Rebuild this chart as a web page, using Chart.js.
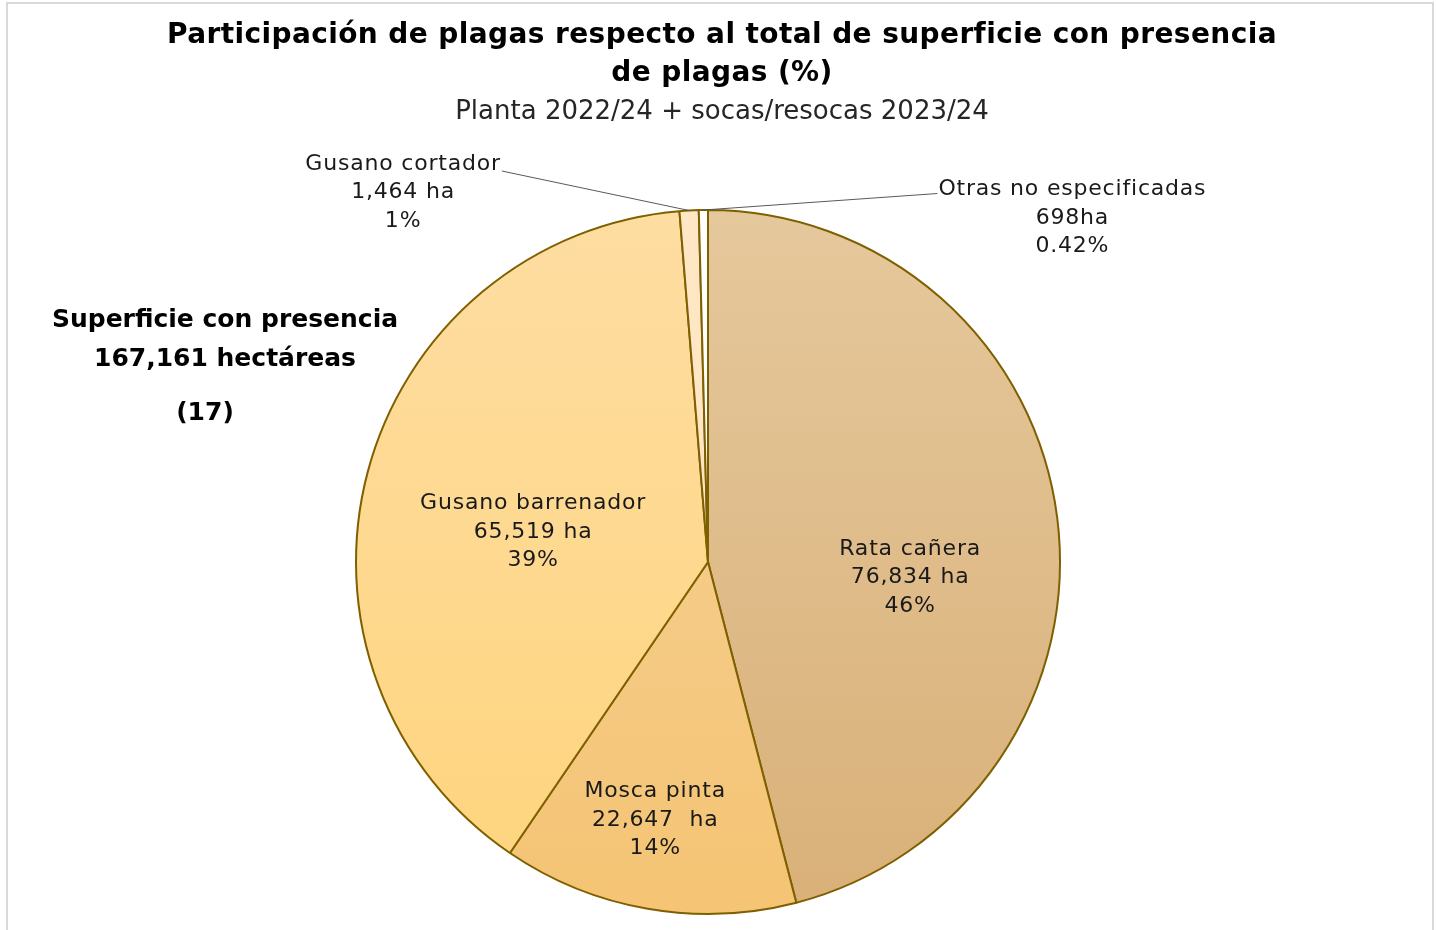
<!DOCTYPE html>
<html>
<head>
<meta charset="utf-8">
<script src="https://cdn.jsdelivr.net/npm/chart.js@4.4.1/dist/chart.umd.min.js"></script>
<style>
  body { margin: 0; background: #ffffff; overflow: hidden; }
  #frame { position: absolute; left: 6px; top: 2px; width: 1424px; height: 960px; border: 2px solid #d9d9d9; }
  #wrap { position: absolute; left: 0; top: 0; width: 1437px; height: 930px; }
</style>
</head>
<body>
<div id="frame"></div>
<div id="wrap"><canvas id="pieChart" width="1437" height="930"></canvas></div>
<script>
// Data
const categories = ['Rata cañera', 'Mosca pinta', 'Gusano barrenador', 'Gusano cortador', 'Otras no especificadas'];
const hectares = [76834, 22647, 65519, 1464, 698];
const haLabels = ['76,834 ha', '22,647  ha', '65,519 ha', '1,464 ha', '698ha'];
const pctLabels = ['46%', '14%', '39%', '1%', '0.42%'];

const titleLines = ['Participación de plagas respecto al total de superficie con presencia', 'de plagas (%)'];
const subtitle = 'Planta 2022/24 + socas/resocas 2023/24';
const noteLines = ['Superficie con presencia', '167,161 hectáreas', '(17)'];

// top / bottom colours of each slice gradient
const topColors = ['#e5c89c', '#f4d29a', '#fedda2', '#ffe7c6', '#ffffff'];
const bottomColors = ['#d9b078', '#f5c474', '#fed47c', '#ffe3bd', '#ffffff'];

const FONT = '"DejaVu Sans", sans-serif';

// where each label sits: inside (polar offset from centre) or outside (offset from arc edge)
const labelPlacement = [
    { inside: true, frac: 0.576, shift: 11.7 },
    { inside: true, frac: 0.748, shift: 1.7 },
    { inside: true, frac: 0.504, shift: -5.1 },
    { inside: false, dx: -286, dy: -18, side: 'left' },
    { inside: false, dx: 369, dy: 8, side: 'right' }
];

function sliceGradient(ctx) {
    const i = ctx.dataIndex;
    const chart = ctx.chart;
    const area = chart.chartArea;
    if (!area) return topColors[i];
    const g = chart.ctx.createLinearGradient(0, area.top, 0, area.bottom);
    g.addColorStop(0, topColors[i]);
    g.addColorStop(1, bottomColors[i]);
    return g;
}

const labelsPlugin = {
    id: 'sliceLabels',
    afterDraw(chart) {
        const ctx = chart.ctx;
        const meta = chart.getDatasetMeta(0);
        const lineH = 28.5;
        ctx.save();
        ctx.fillStyle = '#1a1a1a';
        ctx.font = '22px ' + FONT;
        ctx.letterSpacing = '0.8px';
        ctx.textAlign = 'center';
        ctx.textBaseline = 'middle';

        meta.data.forEach((arc, i) => {
            const p = arc.getProps(['x', 'y', 'startAngle', 'endAngle', 'outerRadius'], true);
            const mid = (p.startAngle + p.endAngle) / 2;
            const place = labelPlacement[i];
            const lines = [categories[i], haLabels[i], pctLabels[i]];
            let cx, cy;
            if (place.inside) {
                const a = mid + place.shift * Math.PI / 180;
                cx = p.x + Math.cos(a) * p.outerRadius * place.frac;
                cy = p.y + Math.sin(a) * p.outerRadius * place.frac;
            } else {
                const ex = p.x + Math.cos(mid) * p.outerRadius;
                const ey = p.y + Math.sin(mid) * p.outerRadius;
                cx = ex + place.dx;
                cy = ey + place.dy;
                // leader line
                const w = ctx.measureText(lines[0]).width;
                const ly = cy - lineH;
                const sx = place.side === 'left' ? cx + w / 2 + 1 : cx - w / 2 - 1;
                ctx.beginPath();
                ctx.strokeStyle = '#595959';
                ctx.lineWidth = 1;
                ctx.moveTo(sx, ly + (place.side === 'left' ? 7 : 4));
                ctx.lineTo(ex, ey);
                ctx.stroke();
            }
            lines.forEach((t, k) => ctx.fillText(t, cx, cy + (k - 1) * lineH));
        });
        ctx.restore();
    }
};

const textPlugin = {
    id: 'titles',
    afterDraw(chart) {
        const ctx = chart.ctx;
        ctx.save();
        ctx.fillStyle = '#000000';
        ctx.textAlign = 'center';
        ctx.textBaseline = 'middle';
        ctx.font = 'bold 28px ' + FONT;
        ctx.letterSpacing = '0.4px';
        ctx.fillText(titleLines[0], 722, 36);
        ctx.fillText(titleLines[1], 722, 74);
        ctx.letterSpacing = '0px';
        ctx.font = '26px ' + FONT;
        ctx.fillStyle = '#262626';
        ctx.fillText(subtitle, 722, 112);

        ctx.fillStyle = '#000000';
        ctx.font = 'bold 25px ' + FONT;
        ctx.fillText(noteLines[0], 225, 320);
        ctx.fillText(noteLines[1], 225, 359);
        ctx.fillText(noteLines[2], 205, 413);
        ctx.restore();
    }
};

new Chart(document.getElementById('pieChart'), {
    type: 'pie',
    data: {
        labels: categories,
        datasets: [{
            data: hectares,
            backgroundColor: sliceGradient,
            borderColor: '#7f6000',
            borderWidth: 2
        }]
    },
    options: {
        responsive: false,
        animation: false,
        layout: { padding: { left: 355, right: 376, top: 209, bottom: 15 } },
        plugins: {
            legend: { display: false },
            title: { display: false },
            tooltip: { enabled: false }
        }
    },
    plugins: [labelsPlugin, textPlugin]
});
</script>
</body>
</html>
